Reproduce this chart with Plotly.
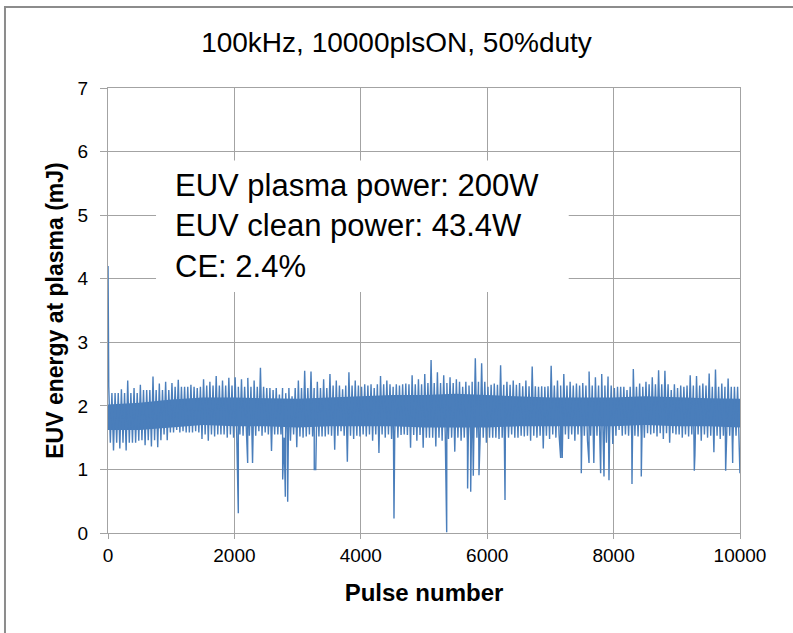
import plotly.graph_objects as go

# ---------------- data ----------------
title_text = "100kHz, 10000plsON, 50%duty"
x_title = "Pulse number"
y_title = "EUV energy at plasma (mJ)"
info_lines = ["EUV plasma power: 200W", "EUV clean power: 43.4W", "CE: 2.4%"]

x_ticks = [0, 2000, 4000, 6000, 8000, 10000]
y_ticks = [0, 1, 2, 3, 4, 5, 6, 7]

# per-100-pulse bins: start pulse, max and min energy (mJ) seen in each bin
bin_start = list(range(0, 10000, 100))
bin_max = [
    2.30, 2.20, 2.26, 2.40, 2.28, 2.33, 2.25, 2.46, 2.35, 2.38,
    2.36, 2.41, 2.30, 2.33, 2.28, 2.42, 2.38, 2.47, 2.40, 2.44,
    2.45, 2.42, 2.44, 2.40, 2.60, 2.28, 2.25, 2.18, 2.20, 2.15,
    2.40, 2.55, 2.54, 2.38, 2.42, 2.50, 2.40, 2.26, 2.53, 2.40,
    2.30, 2.32, 2.28, 2.47, 2.40, 2.30, 2.32, 2.35, 2.48, 2.42,
    2.50, 2.72, 2.53, 2.48, 2.45, 2.42, 2.30, 2.32, 2.75, 2.67,
    2.30, 2.35, 2.64, 2.38, 2.40, 2.36, 2.40, 2.62, 2.30, 2.30,
    2.63, 2.40, 2.50, 2.38, 2.35, 2.36, 2.54, 2.45, 2.50, 2.46,
    2.28, 2.30, 2.25, 2.58, 2.35, 2.38, 2.45, 2.56, 2.55, 2.25,
    2.28, 2.30, 2.48, 2.47, 2.35, 2.51, 2.57, 2.35, 2.43, 2.30,
]
bin_min = [
    1.30, 1.33, 1.30, 1.42, 1.45, 1.38, 1.36, 1.35, 1.55, 1.58,
    1.62, 1.60, 1.58, 1.60, 1.48, 1.45, 1.52, 1.55, 1.50, 1.50,
    1.55, 1.52, 1.10, 1.60, 1.58, 1.29, 1.55, 1.50, 1.45, 1.35,
    1.50, 1.55, 1.00, 1.52, 1.55, 1.31, 1.60, 1.12, 1.48, 1.52,
    1.52, 1.45, 1.26, 1.50, 1.48, 1.50, 1.55, 1.34, 1.45, 1.34,
    1.50, 1.36, 1.45, 1.48, 1.28, 1.45, 1.42, 1.40, 1.45, 1.42,
    1.50, 1.48, 1.52, 1.55, 1.50, 1.52, 1.45, 1.50, 1.33, 1.48,
    1.50, 1.18, 1.48, 1.45, 1.50, 1.45, 1.10, 1.45, 1.42, 1.40,
    1.62, 1.55, 1.50, 1.52, 1.50, 1.55, 1.52, 1.48, 1.42, 1.55,
    1.50, 1.52, 1.23, 1.45, 1.50, 1.27, 1.48, 1.45, 1.40, 1.45,
]

# isolated pulses (start-up spike and deep drop-outs)
spike_pulse = [1, 10, 2062, 2210, 2764, 2806, 2843, 3264, 3782, 4525,
               5359, 5690, 5739, 5780, 5870, 6282, 7162, 7489, 7611, 7795,
               7848, 7927, 8291, 8438, 9277, 9773, 9884, 9999]
spike_value = [4.20, 2.72, 0.31, 1.10, 0.84, 0.57, 0.49, 1.00, 1.12, 0.23,
               0.01, 0.70, 0.65, 0.90, 0.91, 0.52, 1.18, 0.94, 1.10, 0.94,
               0.89, 0.83, 0.77, 0.89, 0.98, 0.98, 1.10, 0.94]

# every 500 pulses: dense core of the noise band and its typical outer extent
core_pulse = list(range(0, 10001, 500))
core_hi = [2.02, 2.05, 2.10, 2.13, 2.13, 2.12, 2.11, 2.13, 2.15, 2.17, 2.17,
           2.19, 2.17, 2.15, 2.13, 2.13, 2.13, 2.15, 2.13, 2.12, 2.11]
core_lo = [1.62, 1.62, 1.66, 1.70, 1.68, 1.68, 1.66, 1.68, 1.68, 1.68, 1.66,
           1.66, 1.66, 1.68, 1.68, 1.68, 1.68, 1.70, 1.68, 1.68, 1.66]
edge_hi = [2.20, 2.25, 2.30, 2.32, 2.30, 2.28, 2.28, 2.32, 2.34, 2.34, 2.36,
           2.38, 2.33, 2.31, 2.32, 2.32, 2.30, 2.34, 2.32, 2.30, 2.28]
edge_lo = [1.42, 1.46, 1.58, 1.55, 1.53, 1.55, 1.52, 1.53, 1.55, 1.54, 1.50,
           1.50, 1.50, 1.53, 1.55, 1.53, 1.53, 1.57, 1.55, 1.53, 1.52]

# ---------------- figure ----------------
BLUE = "#4a7ebb"
GRID = "#a3a3a3"

pts = []
for s, hi, lo in zip(bin_start, bin_max, bin_min):
    k = s // 500
    pts.append((s + 12, hi))
    pts.append((s + 37, edge_lo[k]))
    pts.append((s + 62, edge_hi[k]))
    pts.append((s + 87, lo))
pts += list(zip(spike_pulse, spike_value))
pts.sort()
line_x = [p[0] for p in pts]
line_y = [p[1] for p in pts]

fig = go.Figure()
fig.add_trace(go.Scatter(
    x=core_pulse + core_pulse[::-1],
    y=core_hi + core_lo[::-1],
    fill="toself", fillcolor=BLUE, line=dict(width=0),
    mode="lines", hoverinfo="skip", showlegend=False))
fig.add_trace(go.Scatter(
    x=line_x, y=line_y, mode="lines",
    line=dict(color=BLUE, width=1.4), showlegend=False))

fig.update_layout(
    width=793, height=633,
    margin=dict(l=108, r=53, t=88, b=100),
    paper_bgcolor="white", plot_bgcolor="white",
    font=dict(family="Liberation Sans, Arial, sans-serif", color="black"),
    title=dict(text=title_text, x=0.5, xanchor="center", y=0.934, yanchor="middle",
               font=dict(size=28, color="black")),
    showlegend=False,
)
fig.update_xaxes(
    range=[0, 10000], tickvals=x_ticks, ticktext=[str(v) for v in x_ticks],
    showgrid=True, gridcolor=GRID, gridwidth=1.3,
    showline=True, linecolor=GRID, linewidth=1.3, mirror=True,
    ticks="outside", ticklen=5, tickcolor=GRID,
    zeroline=False, tickfont=dict(size=19),
    title=dict(text="<b>" + x_title + "</b>", font=dict(size=24), standoff=19),
)
fig.update_yaxes(
    range=[0, 7], tickvals=y_ticks, ticktext=[str(v) for v in y_ticks],
    showgrid=True, gridcolor=GRID, gridwidth=1.3,
    showline=True, linecolor=GRID, linewidth=1.3, mirror=True,
    ticks="outside", ticklen=7, tickcolor=GRID,
    zeroline=False, tickfont=dict(size=19), ticklabelstandoff=8,
    title=dict(text="<b>" + y_title + "</b>", font=dict(size=23), standoff=7),
)

# white box behind the info text
fig.add_shape(type="rect", xref="x", yref="y", x0=760, x1=7290, y0=3.79, y1=5.86,
              fillcolor="white", line=dict(width=0), layer="above")
fig.add_annotation(
    xref="x", yref="y", x=1030, y=4.83, xanchor="left", yanchor="middle",
    text="<br>".join(info_lines), align="left", showarrow=False,
    font=dict(size=31, color="black"))

# outer chart-area border (left and top)
fig.add_shape(type="path", xref="paper", yref="paper",
              path="M -0.163 -0.3 L -0.163 1.182 L 1.2 1.182",
              line=dict(color="#8c8c8c", width=2))

fig.write_html("out.html")
